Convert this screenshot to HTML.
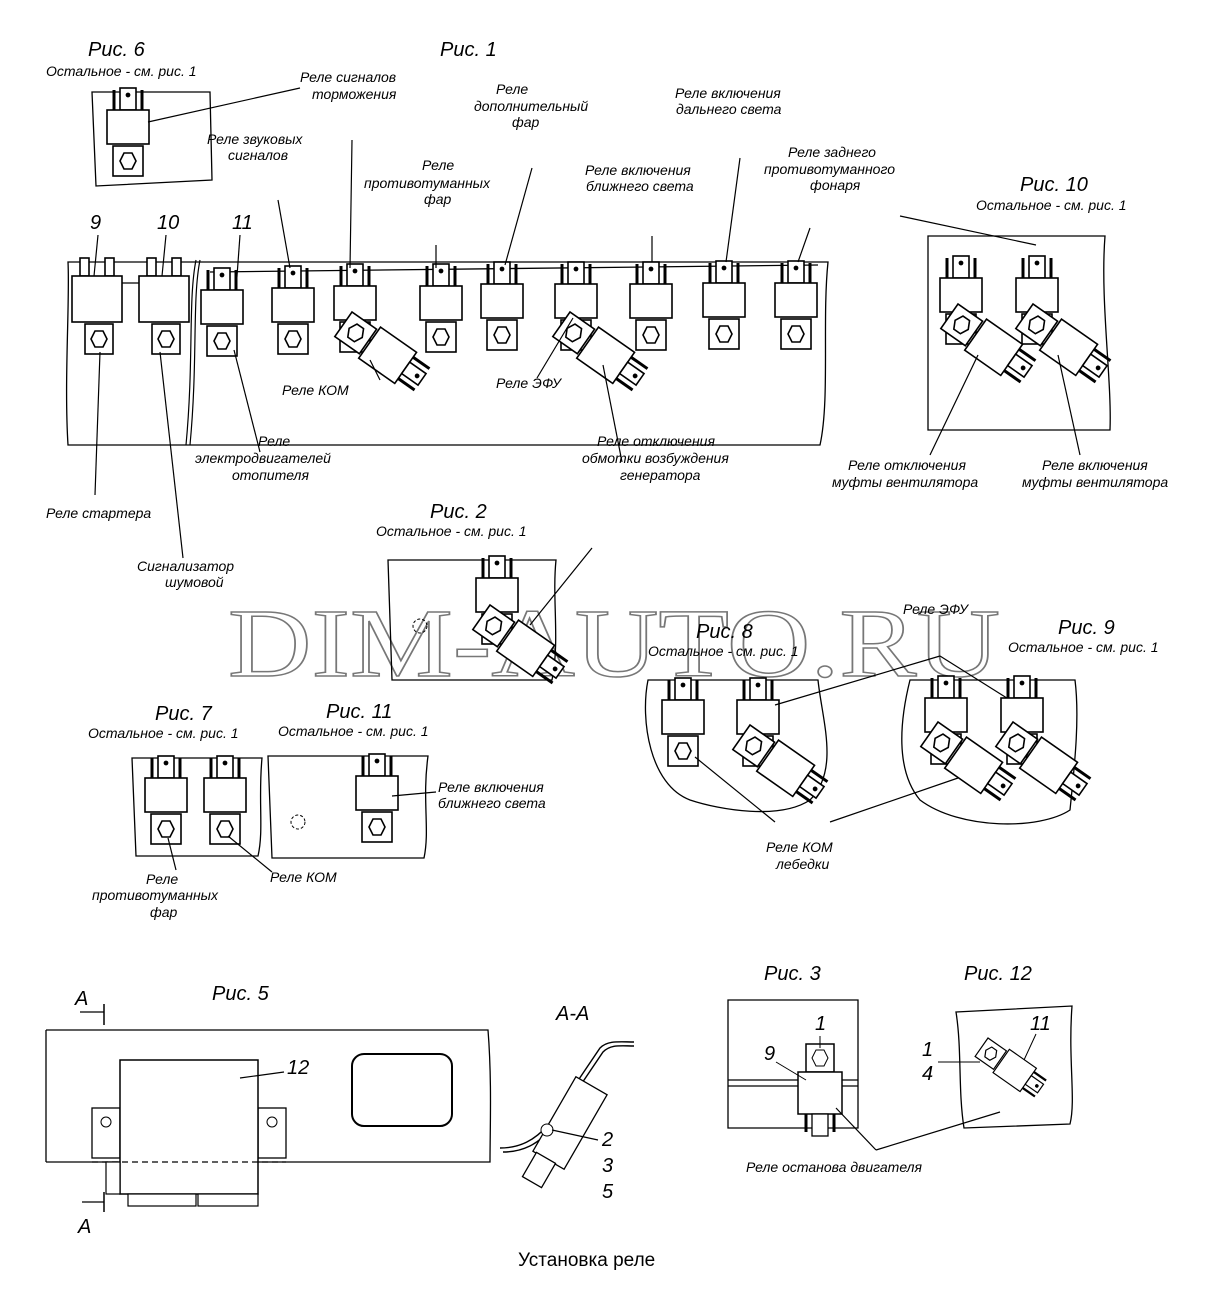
<!DOCTYPE html>
<html><head><meta charset="utf-8"><style>
html,body{margin:0;padding:0;background:#fff}
svg{display:block}
text{font-family:"Liberation Sans",sans-serif;font-style:italic;fill:#000}
.t{font-size:14px}
.h{font-size:20px}
</style></head><body>
<svg width="1230" height="1290" viewBox="0 0 1230 1290" xmlns="http://www.w3.org/2000/svg">
<defs>
<g id="r" fill="#fff" stroke="#000" stroke-width="1.6">
 <line x1="7" y1="-20" x2="7" y2="0" stroke-width="3"/>
 <line x1="35" y1="-20" x2="35" y2="0" stroke-width="3"/>
 <rect x="13" y="-22" width="16" height="22"/>
 <circle cx="21" cy="-15" r="1.6" fill="#000"/>
 <rect x="0" y="0" width="42" height="34"/>
 <rect x="6" y="36" width="30" height="30"/>
 <polygon points="13,51 17,43 25,43 29,51 25,59 17,59"/>
</g>
<g id="rot" fill="#fff" stroke="#000" stroke-width="1.6">
 <rect x="0" y="0" width="30" height="30"/>
 <polygon points="7,15 11,7 19,7 23,15 19,23 11,23"/>
 <rect x="32" y="-4" width="44" height="38"/>
 <line x1="76" y1="2" x2="96" y2="2" stroke-width="3"/>
 <line x1="76" y1="28" x2="96" y2="28" stroke-width="3"/>
 <rect x="76" y="8" width="20" height="14"/>
 <circle cx="90" cy="15" r="1.6" fill="#000"/>
</g>
<g id="big" fill="#fff" stroke="#000" stroke-width="1.6">
 <rect x="8" y="-18" width="9" height="18"/>
 <rect x="33" y="-18" width="9" height="18"/>
 <rect x="0" y="0" width="50" height="46"/>
 <rect x="13" y="48" width="28" height="30"/>
 <polygon points="19,63 23,55 31,55 35,63 31,71 23,71"/>
</g>
</defs>

<!-- watermark -->
<text x="228" y="676" font-size="98" textLength="772" lengthAdjust="spacingAndGlyphs" style="font-family:'Liberation Serif',serif;font-style:normal;fill:none;stroke:#777;stroke-width:1.5">DIM-AUTO.RU</text>

<!-- Рис 6 -->
<text x="88" y="56" class="h">Рис. 6</text>
<text x="46" y="76" class="t">Остальное - см. рис. 1</text>
<path d="M92 92 L210 92 L212 180 L96 186 Z" fill="none" stroke="#000" stroke-width="1.3"/>
<use href="#r" x="107" y="110"/>
<line x1="148" y1="122" x2="300" y2="88" stroke="#000" stroke-width="1.2"/>
<text x="300" y="82" class="t">Реле сигналов</text>
<text x="312" y="99" class="t">торможения</text>

<!-- Рис 1 -->
<text x="440" y="56" class="h">Рис. 1</text>
<path d="M68 262 C70 300 64 380 68 445 L820 445 C830 400 822 320 828 262 Z" fill="none" stroke="#000" stroke-width="1.3"/>
<line x1="120" y1="283" x2="140" y2="283" stroke="#000" stroke-width="1.3"/>
<path d="M196 260 C188 300 194 360 186 445" fill="none" stroke="#000" stroke-width="1.2"/>
<path d="M200 260 C192 300 198 360 190 445" fill="none" stroke="#000" stroke-width="1.2"/>
<line x1="210" y1="272" x2="818" y2="265" stroke="#000" stroke-width="1.3"/>
<use href="#big" x="72" y="276"/>
<use href="#big" x="139" y="276"/>
<use href="#r" x="201" y="290"/>
<use href="#r" x="272" y="288"/>
<use href="#r" x="334" y="286"/>
<use href="#r" x="420" y="286"/>
<use href="#r" x="481" y="284"/>
<use href="#r" x="555" y="284"/>
<use href="#r" x="630" y="284"/>
<use href="#r" x="703" y="283"/>
<use href="#r" x="775" y="283"/>
<use href="#rot" transform="translate(352,312) rotate(35)"/>
<use href="#rot" transform="translate(570,312) rotate(35)"/>
<text x="90" y="229" class="h">9</text>
<text x="157" y="229" class="h">10</text>
<text x="232" y="229" class="h">11</text>
<g stroke="#000" stroke-width="1.2" fill="none">
<line x1="98" y1="235" x2="94" y2="276"/>
<line x1="166" y1="235" x2="162" y2="276"/>
<line x1="240" y1="235" x2="236" y2="290"/>
<line x1="278" y1="200" x2="290" y2="268"/>
<line x1="352" y1="140" x2="350" y2="268"/>
<line x1="436" y1="245" x2="436" y2="268"/>
<line x1="532" y1="168" x2="505" y2="265"/>
<line x1="652" y1="236" x2="652" y2="262"/>
<line x1="740" y1="158" x2="726" y2="262"/>
<line x1="810" y1="228" x2="798" y2="262"/>
<line x1="100" y1="352" x2="95" y2="495"/>
<line x1="160" y1="352" x2="183" y2="558"/>
<line x1="234" y1="350" x2="260" y2="452"/>
<line x1="370" y1="360" x2="380" y2="380"/>
<line x1="573" y1="318" x2="537" y2="378"/>
<line x1="603" y1="365" x2="622" y2="462"/>
</g>
<text x="207" y="144" class="t">Реле звуковых</text>
<text x="228" y="160" class="t">сигналов</text>
<text x="422" y="170" class="t">Реле</text>
<text x="364" y="188" class="t">противотуманных</text>
<text x="424" y="204" class="t">фар</text>
<text x="496" y="94" class="t">Реле</text>
<text x="474" y="111" class="t">дополнительный</text>
<text x="512" y="127" class="t">фар</text>
<text x="585" y="175" class="t">Реле включения</text>
<text x="586" y="191" class="t">ближнего света</text>
<text x="675" y="98" class="t">Реле включения</text>
<text x="676" y="114" class="t">дальнего света</text>
<text x="788" y="157" class="t">Реле заднего</text>
<text x="764" y="174" class="t">противотуманного</text>
<text x="810" y="190" class="t">фонаря</text>
<text x="282" y="395" class="t">Реле КОМ</text>
<text x="496" y="388" class="t">Реле ЭФУ</text>
<text x="46" y="518" class="t">Реле стартера</text>
<text x="258" y="446" class="t">Реле</text>
<text x="195" y="463" class="t">электродвигателей</text>
<text x="232" y="480" class="t">отопителя</text>
<text x="597" y="446" class="t">Реле отключения</text>
<text x="582" y="463" class="t">обмотки возбуждения</text>
<text x="620" y="480" class="t">генератора</text>
<text x="137" y="571" class="t">Сигнализатор</text>
<text x="165" y="587" class="t">шумовой</text>

<!-- Рис 10 -->
<text x="1020" y="191" class="h">Рис. 10</text>
<text x="976" y="210" class="t">Остальное - см. рис. 1</text>
<path d="M928 236 L1105 236 C1100 300 1112 380 1110 430 L928 430 Z" fill="none" stroke="#000" stroke-width="1.3"/>
<line x1="900" y1="216" x2="1036" y2="245" stroke="#000" stroke-width="1.2"/>
<use href="#r" x="940" y="278"/>
<use href="#r" x="1016" y="278"/>
<use href="#rot" transform="translate(958,304) rotate(35)"/>
<use href="#rot" transform="translate(1033,304) rotate(35)"/>
<line x1="978" y1="355" x2="930" y2="455" stroke="#000" stroke-width="1.2"/>
<line x1="1058" y1="355" x2="1080" y2="455" stroke="#000" stroke-width="1.2"/>
<text x="848" y="470" class="t">Реле отключения</text>
<text x="832" y="487" class="t">муфты вентилятора</text>
<text x="1042" y="470" class="t">Реле включения</text>
<text x="1022" y="487" class="t">муфты вентилятора</text>

<!-- Рис 2 -->
<text x="430" y="518" class="h">Рис. 2</text>
<text x="376" y="536" class="t">Остальное - см. рис. 1</text>
<path d="M388 560 L556 560 C552 600 560 640 552 680 L392 680 Z" fill="none" stroke="#000" stroke-width="1.3"/>
<use href="#r" x="476" y="578"/>
<use href="#rot" transform="translate(490,605) rotate(35)"/>
<line x1="592" y1="548" x2="530" y2="625" stroke="#000" stroke-width="1.2"/>
<circle cx="420" cy="626" r="7" fill="none" stroke="#000" stroke-dasharray="3 2"/>
<text x="903" y="614" class="t">Реле ЭФУ</text>

<!-- Рис 8 -->
<text x="696" y="638" class="h">Рис. 8</text>
<text x="648" y="656" class="t">Остальное - см. рис. 1</text>
<path d="M648 680 L818 680 C822 720 840 770 810 800 C780 820 720 810 690 800 C650 785 640 720 648 680 Z" fill="none" stroke="#000" stroke-width="1.3"/>
<use href="#r" x="662" y="700"/>
<use href="#r" x="737" y="700"/>
<use href="#rot" transform="translate(750,725) rotate(35)"/>
<line x1="775" y1="705" x2="940" y2="656" stroke="#000" stroke-width="1.2"/>
<line x1="940" y1="656" x2="1010" y2="700" stroke="#000" stroke-width="1.2"/>
<line x1="695" y1="757" x2="775" y2="822" stroke="#000" stroke-width="1.2"/>
<line x1="958" y1="778" x2="830" y2="822" stroke="#000" stroke-width="1.2"/>
<text x="766" y="852" class="t">Реле КОМ</text>
<text x="776" y="869" class="t">лебедки</text>

<!-- Рис 9 -->
<text x="1058" y="634" class="h">Рис. 9</text>
<text x="1008" y="652" class="t">Остальное - см. рис. 1</text>
<path d="M910 680 L1075 680 C1080 720 1074 770 1070 810 C1040 830 960 830 920 800 C895 770 900 720 910 680 Z" fill="none" stroke="#000" stroke-width="1.3"/>
<use href="#r" x="925" y="698"/>
<use href="#r" x="1001" y="698"/>
<use href="#rot" transform="translate(938,722) rotate(35)"/>
<use href="#rot" transform="translate(1013,722) rotate(35)"/>

<!-- Рис 7 -->
<text x="155" y="720" class="h">Рис. 7</text>
<text x="88" y="738" class="t">Остальное - см. рис. 1</text>
<path d="M132 758 L262 758 C258 800 264 830 258 856 L136 856 Z" fill="none" stroke="#000" stroke-width="1.3"/>
<use href="#r" x="145" y="778"/>
<use href="#r" x="204" y="778"/>
<line x1="168" y1="838" x2="176" y2="870" stroke="#000" stroke-width="1.2"/>
<line x1="228" y1="836" x2="272" y2="872" stroke="#000" stroke-width="1.2"/>
<text x="146" y="884" class="t">Реле</text>
<text x="92" y="900" class="t">противотуманных</text>
<text x="150" y="917" class="t">фар</text>
<text x="270" y="882" class="t">Реле КОМ</text>

<!-- Рис 11 -->
<text x="326" y="718" class="h">Рис. 11</text>
<text x="278" y="736" class="t">Остальное - см. рис. 1</text>
<path d="M268 756 L428 756 C422 800 430 830 424 858 L272 858 Z" fill="none" stroke="#000" stroke-width="1.3"/>
<use href="#r" x="356" y="776"/>
<circle cx="298" cy="822" r="7" fill="none" stroke="#000" stroke-dasharray="3 2"/>
<line x1="392" y1="796" x2="436" y2="792" stroke="#000" stroke-width="1.2"/>
<text x="438" y="792" class="t">Реле включения</text>
<text x="438" y="808" class="t">ближнего света</text>

<!-- Рис 5 -->
<text x="212" y="1000" class="h">Рис. 5</text>
<text x="75" y="1005" class="h">A</text>
<line x1="80" y1="1012" x2="104" y2="1012" stroke="#000" stroke-width="1.2"/>
<line x1="104" y1="1004" x2="104" y2="1025" stroke="#000" stroke-width="1.5"/>
<text x="78" y="1233" class="h">A</text>
<line x1="82" y1="1202" x2="104" y2="1202" stroke="#000" stroke-width="1.2"/>
<line x1="104" y1="1192" x2="104" y2="1212" stroke="#000" stroke-width="1.5"/>
<path d="M46 1030 L488 1030 C492 1080 490 1130 490 1162 L46 1162" fill="none" stroke="#000" stroke-width="1.3"/>
<line x1="46" y1="1030" x2="46" y2="1162" stroke="#000" stroke-width="1.3"/>
<rect x="92" y="1108" width="28" height="50" fill="#fff" stroke="#000" stroke-width="1.3"/>
<rect x="258" y="1108" width="28" height="50" fill="#fff" stroke="#000" stroke-width="1.3"/>
<circle cx="106" cy="1122" r="5" fill="none" stroke="#000"/>
<circle cx="272" cy="1122" r="5" fill="none" stroke="#000"/>
<rect x="120" y="1060" width="138" height="134" fill="#fff" stroke="#000" stroke-width="1.5"/>
<line x1="92" y1="1162" x2="286" y2="1162" stroke="#000" stroke-width="1.2" stroke-dasharray="6 4"/>
<rect x="106" y="1162" width="14" height="32" fill="#fff" stroke="#000" stroke-width="1.2"/>
<rect x="128" y="1194" width="68" height="12" fill="#fff" stroke="#000" stroke-width="1.2"/>
<rect x="198" y="1194" width="60" height="12" fill="#fff" stroke="#000" stroke-width="1.2"/>
<rect x="352" y="1054" width="100" height="72" rx="12" fill="#fff" stroke="#000" stroke-width="2"/>
<line x1="240" y1="1078" x2="284" y2="1072" stroke="#000" stroke-width="1.2"/>
<text x="287" y="1074" class="h">12</text>

<!-- A-A -->
<text x="556" y="1020" class="h">A-A</text>
<path d="M500 1148 C520 1148 535 1140 548 1125 L600 1048 C608 1040 620 1042 634 1042" fill="none" stroke="#000" stroke-width="1.4"/>
<path d="M503 1152 C523 1152 538 1144 551 1129 L603 1052 C611 1044 621 1046 634 1046" fill="none" stroke="#000" stroke-width="1.4"/>
<rect x="552" y="1080" width="36" height="86" transform="rotate(30 570 1123)" fill="#fff" stroke="#000" stroke-width="1.3"/>
<rect x="528" y="1156" width="22" height="28" transform="rotate(30 539 1170)" fill="#fff" stroke="#000" stroke-width="1.3"/>
<circle cx="547" cy="1130" r="6" fill="#fff" stroke="#000"/>
<line x1="552" y1="1130" x2="598" y2="1140" stroke="#000" stroke-width="1.2"/>
<text x="602" y="1146" class="h">2</text>
<text x="602" y="1172" class="h">3</text>
<text x="602" y="1198" class="h">5</text>

<!-- Рис 3 -->
<text x="764" y="980" class="h">Рис. 3</text>
<path d="M728 1000 L858 1000 L858 1128 L728 1128 Z" fill="none" stroke="#000" stroke-width="1.3"/>
<line x1="728" y1="1080" x2="858" y2="1080" stroke="#000" stroke-width="1.2"/>
<line x1="728" y1="1086" x2="858" y2="1086" stroke="#000" stroke-width="1.2"/>
<rect x="806" y="1044" width="28" height="28" fill="#fff" stroke="#000" stroke-width="1.5"/>
<polygon points="812,1058 816,1050 824,1050 828,1058 824,1066 816,1066" fill="none" stroke="#000"/>
<rect x="798" y="1072" width="44" height="42" fill="#fff" stroke="#000" stroke-width="1.5"/>
<rect x="812" y="1114" width="16" height="22" fill="#fff" stroke="#000" stroke-width="1.3"/>
<line x1="806" y1="1114" x2="806" y2="1132" stroke="#000" stroke-width="3"/>
<line x1="834" y1="1114" x2="834" y2="1132" stroke="#000" stroke-width="3"/>
<text x="815" y="1030" class="h">1</text>
<line x1="820" y1="1036" x2="820" y2="1048" stroke="#000"/>
<text x="764" y="1060" class="h">9</text>
<line x1="776" y1="1062" x2="806" y2="1080" stroke="#000"/>
<line x1="836" y1="1108" x2="876" y2="1150" stroke="#000" stroke-width="1.2"/>
<line x1="876" y1="1150" x2="1000" y2="1112" stroke="#000" stroke-width="1.2"/>
<text x="746" y="1172" class="t">Реле останова двигателя</text>

<!-- Рис 12 -->
<text x="964" y="980" class="h">Рис. 12</text>
<path d="M956 1012 L1072 1006 C1068 1060 1076 1100 1070 1124 L964 1128 C958 1090 962 1050 956 1012 Z" fill="none" stroke="#000" stroke-width="1.3"/>
<use href="#rot" transform="translate(988,1038) scale(0.75) rotate(35)"/>
<text x="922" y="1056" class="h">1</text>
<text x="922" y="1080" class="h">4</text>
<line x1="938" y1="1062" x2="980" y2="1062" stroke="#000"/>
<text x="1030" y="1030" class="h">11</text>
<line x1="1036" y1="1034" x2="1024" y2="1060" stroke="#000"/>

<text x="518" y="1266" font-size="19" style="font-style:normal">Установка реле</text>
</svg>
</body></html>
